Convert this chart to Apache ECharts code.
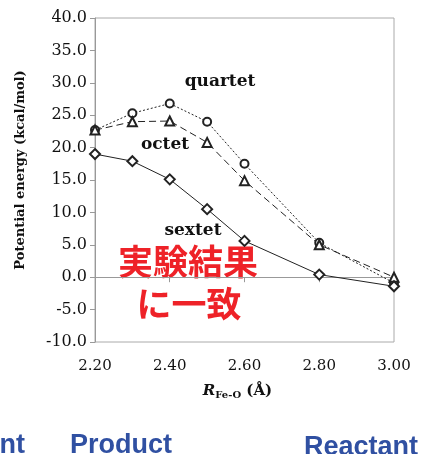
<!DOCTYPE html>
<html><head><meta charset="utf-8">
<script src="https://cdn.jsdelivr.net/npm/echarts@6/dist/echarts.min.js"></script>
<style>html,body{margin:0;padding:0;background:#fff}#c{width:423px;height:454px}</style>
</head><body><div id="c"></div>
<script>
const distances = [2.2, 2.3, 2.4, 2.5, 2.6, 2.8, 3.0];
const quartet = [22.7, 25.3, 26.8, 24.0, 17.5, 5.3, -0.9];
const octet   = [22.7, 24.0, 24.1, 20.8, 14.9, 5.0, 0.0];
const sextet  = [19.0, 17.9, 15.1, 10.5, 5.6, 0.4, -1.4];
const yTicks = { min: -10, max: 40, step: 5 };
const xTicks = { min: 2.2, max: 3.0, step: 0.2 };

const pair = arr => distances.map((d, i) => [d, arr[i]]);
const serif = 'DejaVu Serif';
const chart = echarts.init(document.getElementById('c'), null, { renderer: 'canvas' });
chart.setOption({
  animation: false,
  backgroundColor: '#fff',
  grid: { left: 95, right: 29, top: 18, bottom: 112, show: true, borderColor: '#aaa', borderWidth: 1 },
  xAxis: {
    type: 'value', min: xTicks.min, max: xTicks.max, interval: xTicks.step,
    axisLine: { lineStyle: { color: '#999' } },
    axisTick: { show: true, length: 5, lineStyle: { color: '#999' } },
    splitLine: { show: false },
    axisLabel: { color: '#111', fontFamily: serif, fontSize: 15, margin: 17, formatter: v => v.toFixed(2) },
    name: '{i|R}{s|Fe-O}{n| (Å)}',
    nameLocation: 'middle', nameGap: 40,
    nameTextStyle: {
      padding: [0, 14, 0, 0],
      rich: {
        i: { fontFamily: serif, fontStyle: 'italic', fontWeight: 'bold', fontSize: 15, color: '#111' },
        s: { fontFamily: serif, fontWeight: 'bold', fontSize: 10, color: '#111', padding: [8, 0, 0, 0] },
        n: { fontFamily: serif, fontWeight: 'bold', fontSize: 15, color: '#111' }
      }
    }
  },
  yAxis: {
    type: 'value', min: yTicks.min, max: yTicks.max, interval: yTicks.step,
    axisLine: { show: true, lineStyle: { color: '#999' } },
    axisTick: { show: true, length: 5, lineStyle: { color: '#999' } },
    splitLine: { show: false },
    axisLabel: { color: '#111', fontFamily: serif, fontSize: 16, margin: 8, formatter: v => v.toFixed(1) },
    name: 'Potential energy (kcal/mol)',
    nameLocation: 'middle', nameGap: 68,
    nameTextStyle: { fontFamily: serif, fontWeight: 'bold', fontSize: 13, color: '#111', padding: [0, 0, 0, 20] }
  },
  series: [
    { name: 'quartet', type: 'line', data: pair(quartet), symbol: 'emptyCircle', symbolSize: 8,
      lineStyle: { color: '#222', width: 1, type: [2, 2] }, itemStyle: { color: '#222', borderWidth: 1 } },
    { name: 'octet', type: 'line', data: pair(octet), symbol: 'emptyTriangle', symbolSize: 9,
      lineStyle: { color: '#222', width: 1, type: [7, 4] }, itemStyle: { color: '#222', borderWidth: 1 } },
    { name: 'sextet', type: 'line', data: pair(sextet), symbol: 'emptyDiamond', symbolSize: 10,
      lineStyle: { color: '#222', width: 1, type: 'solid' }, itemStyle: { color: '#222', borderWidth: 1 } }
  ],
  graphic: [
    { type: 'text', x: 220, y: 82, style: { text: 'quartet', font: 'bold 17px "DejaVu Serif"', fill: '#111', align: 'center', verticalAlign: 'middle' } },
    { type: 'text', x: 165, y: 145, style: { text: 'octet', font: 'bold 17px "DejaVu Serif"', fill: '#111', align: 'center', verticalAlign: 'middle' } },
    { type: 'text', x: 193, y: 231, style: { text: 'sextet', font: 'bold 17px "DejaVu Serif"', fill: '#111', align: 'center', verticalAlign: 'middle' } },
    { type: 'text', x: 188, y: 262, style: { text: '実験結果', font: 'bold 35px "Noto Sans CJK JP"', fill: '#ee2228', align: 'center', verticalAlign: 'middle' } },
    { type: 'text', x: 189, y: 304, style: { text: 'に一致', font: 'bold 35px "Noto Sans CJK JP"', fill: '#ee2228', align: 'center', verticalAlign: 'middle' } },
    { type: 'text', x: 25, y: 446, style: { text: 'nt', font: 'bold 27px "Liberation Sans"', fill: '#3050a2', align: 'right', verticalAlign: 'middle' } },
    { type: 'text', x: 70, y: 446, style: { text: 'Product', font: 'bold 27px "Liberation Sans"', fill: '#3050a2', align: 'left', verticalAlign: 'middle' } },
    { type: 'text', x: 304, y: 448, style: { text: 'Reactant', font: 'bold 27px "Liberation Sans"', fill: '#3050a2', align: 'left', verticalAlign: 'middle' } }
  ]
});
</script></body></html>
